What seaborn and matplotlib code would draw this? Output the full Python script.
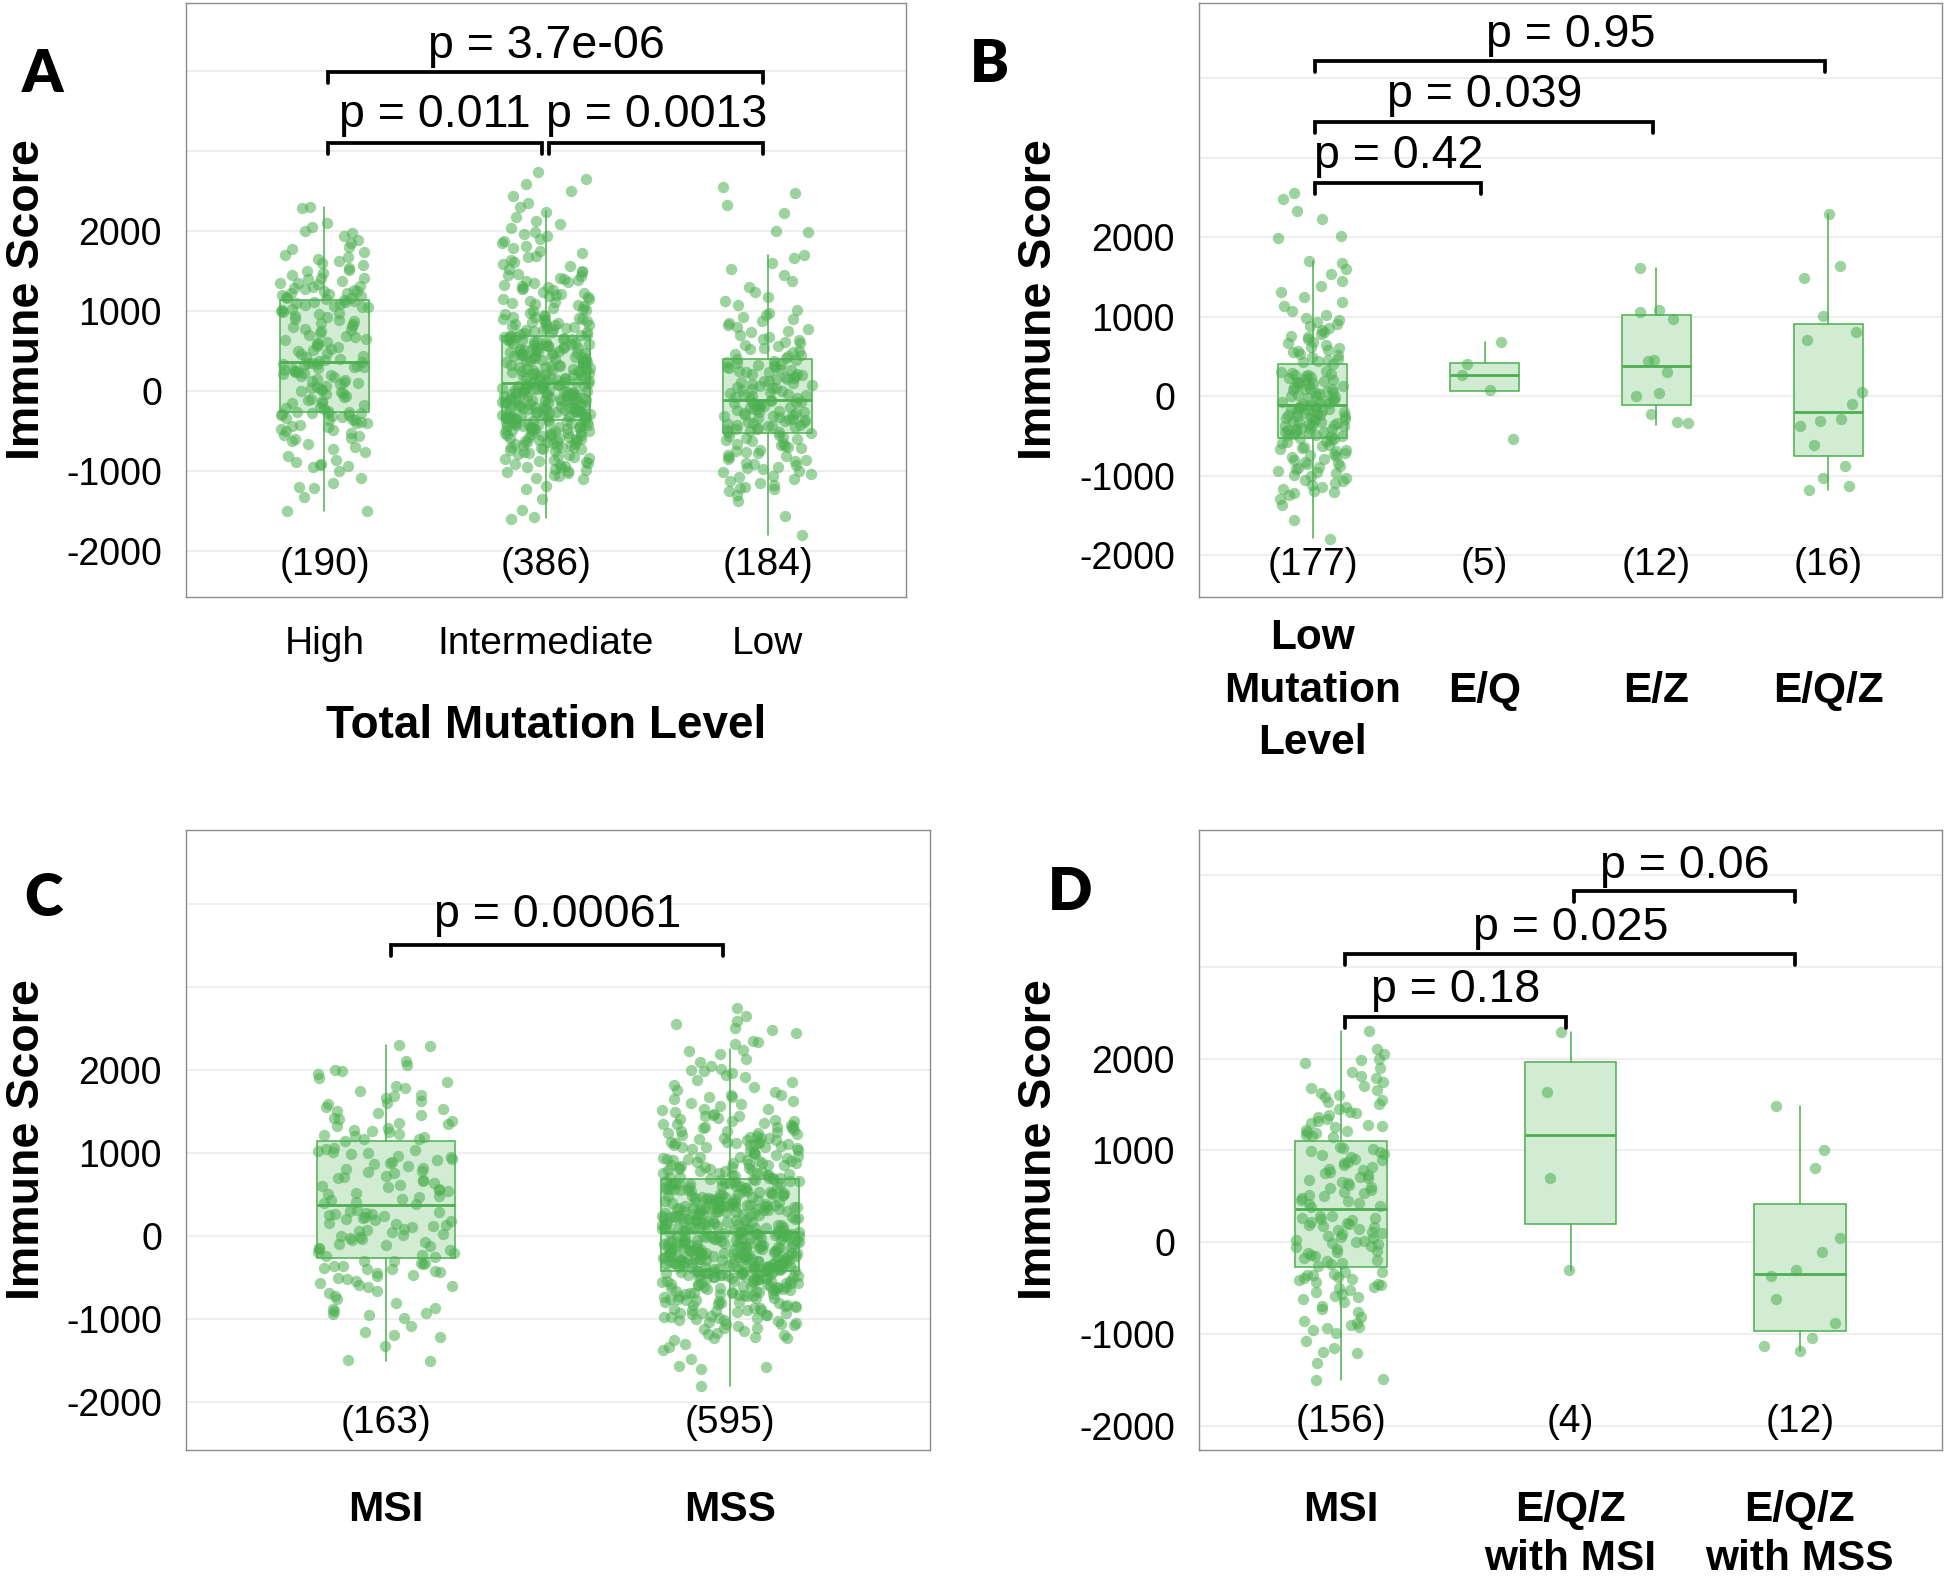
import numpy as np
import pandas as pd
import seaborn as sns
import matplotlib.pyplot as plt

# immune scores per group (dense clouds are estimated)
high_scores = [
    -1500, -255, 381, 1148, -1490, -238, 396, 1163, -1320, -222, 412, 1172,
    -1210, -205, 433, 1188, -1190, -188, 447, 1203, -1150, -172, 466, 1214,
    -1080, -150, 482, 1228, -990, -141, 503, 1252, -950, -118, 518, 1263,
    -935, -102, 537, 1281, -920, -93, 552, 1302, -905, -68, 571, 1318,
    -880, -52, 588, 1344, -860, -37, 604, 1362, -810, -22, 619, 1383,
    -760, -8, 642, 1406, -725, 3, 657, 1421, -690, 14, 679, 1452,
    -655, 28, 698, 1478, -615, 45, 712, 1503, -600, 57, 728, 1524,
    -585, 73, 753, 1547, -560, 88, 768, 1583, -545, 104, 787, 1602,
    -515, 117, 803, 1628, -500, 135, 822, 1655, -485, 148, 838, 1684,
    -465, 162, 861, 1702, -450, 176, 879, 1748, -430, 193, 897, 1785,
    -415, 201, 912, 1806, -400, 214, 928, 1853, -392, 226, 948, 1897,
    -378, 238, 963, 1948, -360, 249, 982, 1983, -355, 262, 996, 2002,
    -340, 270, 1012, 2055, -328, 283, 1024, 2110, -320, 291, 1037, 2300,
    -305, 305, 1052, 2290, -300, 312, 1061, 1417, -290, 318, 1073, 1258,
    -283, 331, 1084, 1233, -270, 343, 1092, 1182, -275, 349, 1103, 1157,
    -266, 356, 1114, 1296, -262, 362, 1121, 1351, 366, 1133,
]

inter_scores = [
    -1600, -1570, -1480, -1340, -1220, -1180, -1100, -1080, -1060, -1040, -1020, -1010,
    -995, -980, -970, -950, -945, -930, -920, -910, -895, -885, -870, -860, -845,
    -830, -820, -810, -795, -780, -770, -755, -740, -730, -720, -715, -705, -700,
    -695, -690, -680, -670, -665, -655, -650, -645, -635, -630, -620, -615, -610, -605,
    -595, -590, -585, -580, -570, -565, -560, -555, -545, -540, -535, -530, -525, -520,
    -515, -505, -500, -495, -490, -485, -480, -475, -470, -465, -460, -455, -450, -445,
    -440, -435, -430, -425, -420, -415, -410, -405, -400, -395, -390, -385, -380, -378,
    -375, -372,
    -366, -360, -357, -350, -346, -341, -335, -332, -325, -321,
    -318, -311, -307, -303, -297, -292, -289, -283, -279, -272,
    -270, -264, -258, -255, -251, -244, -241, -236, -230, -228,
    -221, -218, -212, -208, -202, -199, -193, -188, -185, -178,
    -174, -171, -164, -160, -157, -150, -147, -141, -137, -133,
    -126, -122, -119, -112, -109, -103, -98, -95, -88, -85,
    -81, -74, -71, -65, -62, -57, -50, -46, -43, -36,
    -33, -27, -24, -17, -14, -9, -3, 2, 5, 11,
    14, 21, 24, 30, 33, 40, 43, 49, 54, 57,
    64, 68, 71, 78, 81, 87, 92,
    103, 111, 115, 123, 128, 136, 140, 148, 152, 161,
    165, 173, 178, 185, 190, 198, 202, 210, 214, 223,
    227, 235, 239, 247, 252, 260, 264, 272, 276, 285,
    289, 297, 301, 309, 314, 322, 326, 334, 338, 347,
    351, 359, 363, 371, 376, 384, 388, 396, 400, 409,
    413, 421, 425, 433, 438, 446, 450, 458, 462, 471,
    475, 483, 487, 495, 500, 508, 512, 520, 524, 533,
    537, 545, 549, 557, 562, 570, 574, 582, 586, 595,
    599, 607, 611, 619, 624, 632, 636, 644, 648, 657,
    661, 669, 673, 681, 686, 694, 698,
    704, 712, 722, 729, 739, 746, 756, 763, 773, 780,
    791, 797, 808, 814, 825, 831, 842, 849, 859, 866,
    876, 883, 893, 900, 911, 917, 928, 934, 945, 951, 966, 987,
    1005, 1017, 1034, 1046, 1063, 1075, 1092, 1104, 1121, 1133,
    1150, 1162, 1179, 1191, 1208, 1220, 1237, 1249, 1266, 1278,
    1295, 1307, 1324, 1336, 1353, 1365, 1382, 1394, 1411, 1423,
    1440, 1452, 1469, 1491,
    1512, 1534, 1566, 1588, 1621, 1643, 1676, 1698, 1731, 1759,
    1791, 1814, 1852, 1878, 1911, 1938, 1966, 1992,
    2041, 2088, 2132, 2187, 2243,
    2305, 2352, 2448, 2503, 2588, 2652, 2748,
]

low_scores = [
    405, 423, 441, 458, 472, 490, 512, 530, 548, 566, 585, 603, 621, 640, 662, 684,
    712, 738, 760, 785, 806, 832, 858, 877, 901, 925, 952, 978,
    1020, 1075, 1130, 1180, 1240, 1310, 1380, 1450, 1530, 1600, 1670, 1700,
    2550, 2480, 2330, 2230, 2010, 1990,
    -540, -553, -567, -581, -596, -610, -625, -639, -654, -668, -683, -697,
    -712, -726, -741, -755, -770, -788, -808, -825, -841, -858, -874, -891,
    -907, -924, -940, -957, -973, -990, -1010, -1030, -1055, -1075, -1100, -1120,
    -1145, -1165, -1190, -1800, -1560, -1370, -1300, -1250, -1220, -1210,
    -115, -127, -131, -145, -150, -163, -167, -180, -186, -198, -203, -216,
    -221, -234, -240, -252, -257, -270, -275, -288, -293, -306, -311, -324,
    -329, -342, -347, -360, -365, -378, -383, -396, -401, -414, -419, -432,
    -437, -450, -455, -468, -473, -486, -491, -504, -509, -522,
    -106, -92, -84, -70, -62, -48, -40, -26, -18, -4, 4, 18,
    26, 40, 48, 62, 70, 84, 92, 106, 114, 128, 136, 150,
    158, 172, 180, 194, 202, 216, 224, 238, 246, 260, 268, 282,
    290, 304, 312, 326, 334, 348, 356, 370, 378, 392,
]

eq_scores = [680, 405, 266, 76, -544]
ez_scores = [1606, 1078, 1061, 967, 452, 444, 306, 38, 4, -226, -339, -331]
eqz_scores = [2293, 1635, 1480, 1004, 809, 704, 50, -101, -293, -310, -373,
              -616, -876, -1035, -1127, -1182]
eqz_msi_scores = [2296, 1639, 704, -307]
eqz_mss_scores = [1480, 1004, 805, 43, -105, -307, -372, -617, -880, -1043, -1133, -1188]

# subsets of the mutation-level groups
lowmut_scores = low_scores[:177]
msi_scores = high_scores[:163]
mss_scores = inter_scores + low_scores + high_scores[165:]
msi_d_scores = high_scores[:156]

# box statistics: q1, median, q3, lower whisker, upper whisker
box_a = [(-258, 367, 1138, -1490, 2300), (-359, 105, 694, -1580, 2254), (-520, -111, 409, -1800, 1703)]
box_b = [(-525, -119, 400, -1790, 1700), (63, 266, 418, 63, 680),
         (-113, 373, 1017, -364, 1606), (-750, -205, 905, -1182, 2293)]
box_c = [(-259, 373, 1139, -1500, 2301), (-422, 48, 681, -1801, 2253)]
box_d = [(-266, 359, 1103, -1505, 2299), (195, 1170, 1968, -310, 2296), (-971, -350, 419, -1188, 1480)]

# pairwise comparisons
a_pairs, a_pvals = [(0, 1), (1, 2), (0, 2)], ['0.011', '0.0013', '3.7e-06']
b_pairs, b_pvals = [(0, 1), (0, 2), (0, 3)], ['0.42', '0.039', '0.95']
c_pairs, c_pvals = [(0, 1)], ['0.00061']
d_pairs, d_pvals = [(0, 1), (0, 2), (1, 2)], ['0.18', '0.025', '0.06']

green = '#4CAF50'
fill = '#D2EBD3'
grid_c = '#EBEBEB'

sns.set_style('white')
plt.rcParams['font.family'] = ['Liberation Sans', 'DejaVu Sans']
plt.rcParams['axes.unicode_minus'] = False
plt.rcParams['text.color'] = 'black'
plt.rcParams['axes.labelcolor'] = 'black'
np.random.seed(7)

W, H = 1946, 1576
fig = plt.figure(figsize=(W / 100, H / 100), dpi=100)


def panel(rect, names, values, stats, pairs, pvals, br_y, txt_y, xlim, ylim, count_y,
          bold, va, pad, ls, ylab_x):
    l, t, r, b = rect
    ax = fig.add_axes([l / W, 1 - b / H, (r - l) / W, (b - t) / H])
    df = pd.DataFrame({'group': np.repeat(names, [len(v) for v in values]),
                       'score': np.concatenate(values)})
    bstats = [dict(q1=q1, med=m, q3=q3, whislo=lo, whishi=hi, fliers=[])
              for q1, m, q3, lo, hi in stats]
    ax.bxp(bstats, positions=range(len(names)), widths=0.4, patch_artist=True,
           showfliers=False, showcaps=False, manage_ticks=False, zorder=2,
           boxprops=dict(facecolor=fill, edgecolor=green, linewidth=1.1),
           medianprops=dict(color=green, linewidth=2.0, solid_capstyle='butt'),
           whiskerprops=dict(color=green, linewidth=1.1))
    sns.stripplot(data=df, x='group', y='score', order=names, color=green, alpha=0.55,
                  size=8.2, jitter=0.2, linewidth=0, ax=ax, zorder=3)
    ax.set_xlim(*xlim)
    ax.set_ylim(*ylim)
    ax.set_yticks([-2000, -1000, 0, 1000, 2000])
    ax.yaxis.grid(True, color=grid_c, lw=1.2)
    for g in (3000, 4000):
        ax.axhline(g, color=grid_c, lw=1.2, zorder=0.5)
    ax.set_axisbelow(True)
    ax.set_xticks(range(len(names)), names, fontsize=30.5 if bold else 28,
                  fontweight='bold' if bold else 'normal', va=va, linespacing=ls)
    ax.tick_params(axis='both', direction='out', length=8.6, width=0.8, color='#333333',
                   labelcolor='black')
    ax.tick_params(axis='y', labelsize=27, pad=8.6)
    ax.tick_params(axis='x', pad=pad)
    for s in ax.spines.values():
        s.set_visible(True)
        s.set_color('#8C8C8C')
        s.set_linewidth(1.0)
    ax.set_xlabel('')
    ax.set_ylabel('Immune Score', fontsize=33.5, fontweight='bold', color='black')
    ax.yaxis.label.set(rotation_mode='default', va='center', ha='center')
    ax.yaxis.set_label_coords(ylab_x, 0.5)
    for i, v in enumerate(values):
        ax.text(i, count_y, f'({len(v)})', ha='center', va='center', fontsize=28)
    tip = 11 / (b - t) * (ylim[1] - ylim[0])
    for (p, q), pv, y, ty in zip(pairs, pvals, br_y, txt_y):
        x1, x2 = p + 0.015, q - 0.02
        ax.plot([x1, x1, x2, x2], [y - tip, y, y, y - tip], color='black', lw=2.7,
                zorder=4, solid_joinstyle='miter', clip_on=False)
        ax.text((p + q) / 2, ty, f'p = {pv}', ha='center', va='baseline', fontsize=33.5)
    return ax


ax_a = panel((186, 2.5, 906, 597), ['High', 'Intermediate', 'Low'],
             [high_scores, inter_scores, low_scores], box_a, a_pairs, a_pvals,
             [3100, 3100, 3990], [3300, 3300, 4170], (-0.625, 2.625), (-2569, 4862), -2164,
             False, 'top', 12.2, 1.2, -0.2213)
ax_a.set_xlabel('Total Mutation Level', fontsize=33, fontweight='bold', color='black')
ax_a.xaxis.label.set_va('center')
ax_a.xaxis.set_label_coords(0.5, -0.2178)

panel((1199, 2.5, 1942, 597), ['Low\nMutation\nLevel', 'E/Q', 'E/Z', 'E/Q/Z'],
      [lowmut_scores, eq_scores, ez_scores, eqz_scores], box_b, b_pairs, b_pvals,
      [2675, 3450, 4215], [2862, 3631, 4388], (-0.66, 3.66), (-2528, 4950), -2131,
      True, 'center', 59, 1.40, -0.2157)

panel((186, 830, 930, 1449.6), ['MSI', 'MSS'], [msi_scores, mss_scores], box_c,
      c_pairs, c_pvals, [3505], [3715], (-0.58, 1.58), (-2568, 4884), -2253,
      True, 'top', 20.2, 1.2, -0.2141)

panel((1199, 830, 1942, 1449.6), ['MSI', 'E/Q/Z\nwith MSI', 'E/Q/Z\nwith MSS'],
      [msi_d_scores, eqz_msi_scores, eqz_mss_scores], box_d, d_pairs, d_pvals,
      [2453, 3138, 3830], [2614, 3293, 3973], (-0.62, 2.62), (-2258, 4491), -1957,
      True, 'top', 20.2, 1.31, -0.2157)

for letter, x, y in [('A', 43, 74), ('B', 989, 65), ('C', 43, 899), ('D', 1070, 892)]:
    fig.text(x / W, 1 - y / H, letter, fontsize=42, fontweight='heavy',
             family=['Lato', 'DejaVu Sans'], ha='center', va='center')

fig.savefig('out.png', dpi=100)
